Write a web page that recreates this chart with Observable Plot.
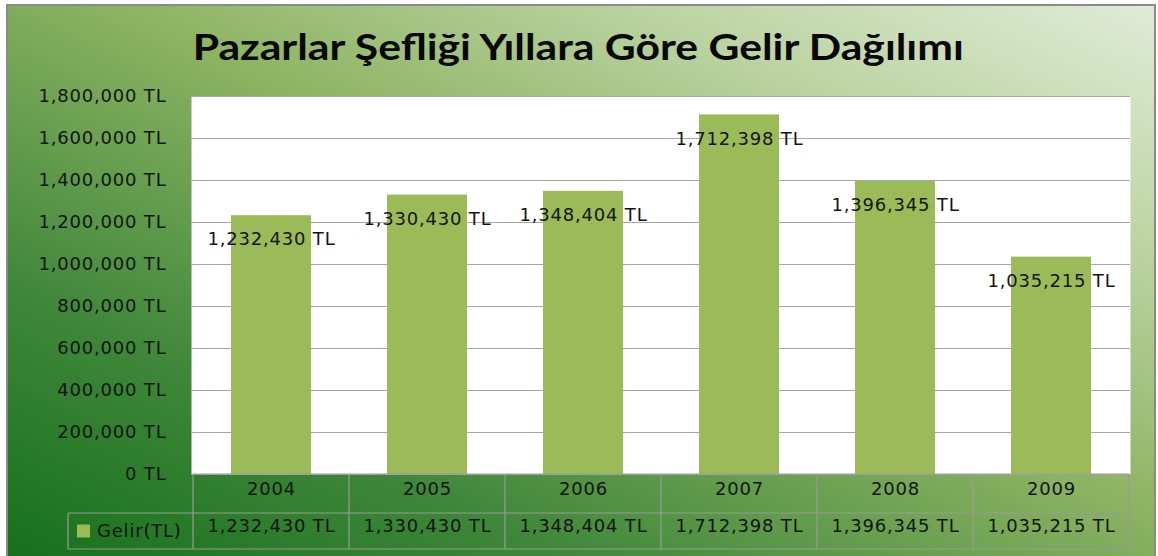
<!DOCTYPE html>
<html><head><meta charset="utf-8">
<script src="https://cdn.jsdelivr.net/npm/d3@7"></script>
<script src="https://cdn.jsdelivr.net/npm/@observablehq/plot@0.6"></script>
<style>
html,body{margin:0;padding:0;background:#fff;}
#wrap{position:relative;width:1158px;height:556px;overflow:hidden;}
#bg{position:absolute;left:6px;top:4px;width:1146px;height:560px;border:2px solid #8a8a8a;background:linear-gradient(to top right,#15701a 0%,#3f873a 25%,#8db463 55%,#bcd4a3 78%,#e0ebd7 100%);}
#title{position:absolute;left:0;width:1158px;top:25px;text-align:center;font-family:Lato;font-weight:bold;font-size:36px;line-height:42px;color:#080808;white-space:nowrap;transform:scaleX(1.185);transform-origin:583px 0;}
#chart{position:absolute;left:0;top:0;}
</style></head>
<body><div id="wrap"><div id="bg"></div><div id="title"></div><div id="chart"></div></div>
<script>
const titleText = "Pazarlar Şefliği Yıllara Göre Gelir Dağılımı";
const years = ["2004","2005","2006","2007","2008","2009"];
const gelir = [1232430,1330430,1348404,1712398,1396345,1035215];
const yTicks = [0,200000,400000,600000,800000,1000000,1200000,1400000,1600000,1800000];
const seriesName = "Gelir(TL)";
const barColor = "#9bbb59";

document.getElementById("title").textContent = titleText;
const data = years.map((y,i)=>({year:y, value:gelir[i]}));
const fmt = v => d3.format(",")(v) + " TL";

const plot = Plot.plot({
  width:1158, height:556,
  marginLeft:191, marginRight:28, marginTop:96, marginBottom:82,
  style:{background:"transparent", fontFamily:"DejaVu Sans", fontSize:"18px", color:"#141414", letterSpacing:"0.8px"},
  x:{domain:years, paddingInner:0.49, paddingOuter:0.245, axis:null},
  y:{domain:[0,1800000], axis:null},
  marks:[
    Plot.frame({fill:"white", stroke:null}),
    Plot.gridY(yTicks, {stroke:"#a6a6a6", strokeOpacity:1}),
    Plot.axisY(yTicks, {tickSize:0, tickPadding:25, tickFormat:fmt, fill:"#141414", label:null}),
    Plot.barY(data, {x:"year", y:"value", fill:barColor}),
    Plot.text(data, {x:"year", y:"value", text:d=>fmt(d.value), dy:24, fill:"#141414"}),
    Plot.text(years, {x:d=>d, frameAnchor:"bottom", dy:20, text:d=>d, fill:"#141414"}),
    Plot.text(data, {x:"year", frameAnchor:"bottom", dy:57, text:d=>fmt(d.value), fill:"#141414"})
  ]
});
document.getElementById("chart").appendChild(plot);

// data table grid + legend key
const xs = plot.scale("x"), ysc = plot.scale("y");
const y0 = ysc.apply(0), y1 = y0 + 39, y2 = y0 + 75;
const half = (xs.step - xs.bandwidth) / 2;
const lefts = years.map(y => xs.apply(y) - half);
const right = lefts[lefts.length-1] + xs.step;
const legLeft = 68;
const g = d3.select(plot).append("g").attr("stroke","#9a9a9a").attr("stroke-width",1.2).attr("fill","none");
g.append("line").attr("x1",lefts[0]).attr("x2",right).attr("y1",y0).attr("y2",y0);
g.append("line").attr("x1",legLeft).attr("x2",right).attr("y1",y1).attr("y2",y1);
g.append("line").attr("x1",legLeft).attr("x2",right).attr("y1",y2).attr("y2",y2);
lefts.concat([right]).forEach(x => g.append("line").attr("x1",x).attr("x2",x).attr("y1",y0).attr("y2",y2));
g.append("line").attr("x1",legLeft).attr("x2",legLeft).attr("y1",y1).attr("y2",y2);
const lg = d3.select(plot).append("g");
lg.append("rect").attr("x",77).attr("y",(y1+y2)/2-6.5).attr("width",13).attr("height",13).attr("fill",barColor);
lg.append("text").attr("x",97).attr("y",(y1+y2)/2).attr("dy","0.35em").attr("text-anchor","start").attr("fill","#141414").text(seriesName);
</script>
</body></html>
